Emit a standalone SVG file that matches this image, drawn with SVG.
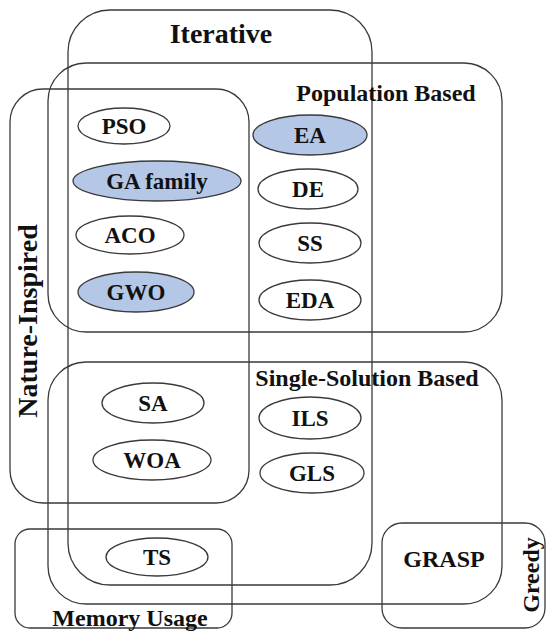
<svg xmlns="http://www.w3.org/2000/svg" width="546" height="631" viewBox="0 0 546 631">
<style>
.reg{fill:none;stroke:#3a3a3a;stroke-width:1.3}
.el{fill:#fff;stroke:#3a3a3a;stroke-width:1.3}
.hl{fill:#b4c7e7}
text{font-weight:bold;fill:#111;text-anchor:middle}
.t{font-size:23px}
.big{font-size:28px}
.mid{font-size:24px}
</style>
<rect width="546" height="631" fill="#fff"/>
<g font-family="Liberation Serif, Times New Roman, DejaVu Serif, serif">
<g id="iterative"><rect class="reg" x="68" y="10" width="304" height="575" rx="42"/><text class="big" x="221" y="43">Iterative</text></g>
<g id="population"><rect class="reg" x="48" y="63" width="454" height="269" rx="38"/><text class="mid" x="386" y="101">Population Based</text></g>
<g id="nature"><rect class="reg" x="10" y="89" width="239" height="414" rx="33"/><text class="big" transform="translate(37,321) rotate(-90)">Nature-Inspired</text></g>
<g id="single"><rect class="reg" x="48" y="362" width="454" height="242" rx="38"/><text class="mid" x="367" y="386">Single-Solution Based</text></g>
<g id="memory"><rect class="reg" x="15" y="529" width="217" height="99" rx="15"/><text class="mid" x="130" y="626">Memory Usage</text></g>
<g id="greedy"><rect class="reg" x="382" y="523" width="163" height="105" rx="20"/><text class="mid" transform="translate(539,575) rotate(-90)">Greedy</text><text class="mid" x="444" y="567">GRASP</text></g>
<g id="PSO"><ellipse class="el" cx="124" cy="126" rx="46" ry="18"/><text class="t" x="124" y="134">PSO</text></g>
<g id="GA"><ellipse class="el hl" cx="157" cy="181" rx="84" ry="20"/><text class="t" x="157" y="189">GA family</text></g>
<g id="ACO"><ellipse class="el" cx="130" cy="235" rx="54" ry="19"/><text class="t" x="130" y="243">ACO</text></g>
<g id="GWO"><ellipse class="el hl" cx="136" cy="292" rx="58" ry="20"/><text class="t" x="136" y="300">GWO</text></g>
<g id="EA"><ellipse class="el hl" cx="310" cy="135" rx="57" ry="20"/><text class="t" x="310" y="143">EA</text></g>
<g id="DE"><ellipse class="el" cx="308" cy="189" rx="50" ry="20"/><text class="t" x="308" y="197">DE</text></g>
<g id="SS"><ellipse class="el" cx="310" cy="243" rx="51" ry="20"/><text class="t" x="310" y="251">SS</text></g>
<g id="EDA"><ellipse class="el" cx="310" cy="300" rx="51" ry="20"/><text class="t" x="310" y="308">EDA</text></g>
<g id="SA"><ellipse class="el" cx="153" cy="403" rx="51" ry="20"/><text class="t" x="153" y="411">SA</text></g>
<g id="WOA"><ellipse class="el" cx="152" cy="460" rx="59" ry="20"/><text class="t" x="152" y="468">WOA</text></g>
<g id="TS"><ellipse class="el" cx="157" cy="557" rx="51" ry="19"/><text class="t" x="157" y="565">TS</text></g>
<g id="ILS"><ellipse class="el" cx="310" cy="418" rx="51" ry="21"/><text class="t" x="310" y="426">ILS</text></g>
<g id="GLS"><ellipse class="el" cx="312" cy="473" rx="52" ry="20"/><text class="t" x="312" y="481">GLS</text></g>
</g>
</svg>
